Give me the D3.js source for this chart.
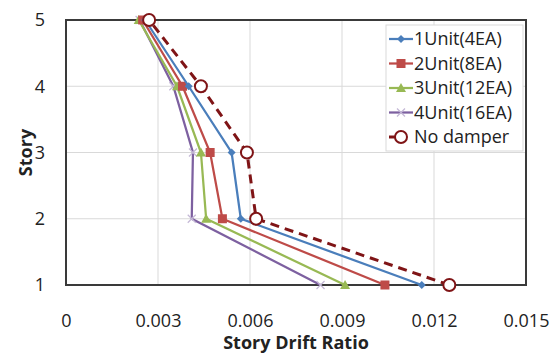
<!DOCTYPE html>
<html>
<head>
<meta charset="utf-8">
<script src="https://cdn.jsdelivr.net/npm/d3@7"></script>
<style>
  body { margin: 0; background: #fff; }
  text { font-family: "Open Sans", "Liberation Sans", sans-serif; fill: #222; }
</style>
</head>
<body>
<div id="drift-chart"></div>
<script>
// story levels and drift ratios
var stories = [1, 2, 3, 4, 5];
var unit1 = [0.0116, 0.0057, 0.0054, 0.0040, 0.00258];
var unit2 = [0.0104, 0.0051, 0.0047, 0.0038, 0.0025];
var unit3 = [0.0091, 0.00457, 0.0044, 0.00362, 0.00237];
var unit4 = [0.0083, 0.0041, 0.00414, 0.0035, 0.0024];
var noDamper = [0.0125, 0.0062, 0.0059, 0.0044, 0.00271];
var xTicks = [0, 0.003, 0.006, 0.009, 0.012, 0.015];
var xTickLabels = ['0', '0.003', '0.006', '0.009', '0.012', '0.015'];
var yTicks = [1, 2, 3, 4, 5];

var series = [
  { name: '1Unit(4EA)', values: unit1, color: '#4a7ebb', marker: 'diamond' },
  { name: '2Unit(8EA)', values: unit2, color: '#be4b48', marker: 'square' },
  { name: '3Unit(12EA)', values: unit3, color: '#98b954', marker: 'triangle' },
  { name: '4Unit(16EA)', values: unit4, color: '#7d60a0', marker: 'cross' },
  { name: 'No damper', values: noDamper, color: '#7f1416', marker: 'circle', dashed: true }
];

var width = 560, height = 356;
var plotLeft = 66, plotRight = 526, plotTop = 20, plotBottom = 285;

var x = d3.scaleLinear().domain([0, 0.015]).range([plotLeft, plotRight]);
var y = d3.scaleLinear().domain([1, 5]).range([plotBottom, plotTop]);

var svg = d3.select('#drift-chart').append('svg')
  .attr('width', width)
  .attr('height', height);

/* gridlines */
svg.append('g').selectAll('line')
  .data(xTicks.slice(1, -1)).enter()
  .append('line')
  .attr('x1', d => x(d)).attr('x2', d => x(d))
  .attr('y1', plotTop).attr('y2', plotBottom)
  .attr('stroke', '#d9d9d9').attr('stroke-width', 1);
svg.append('g').selectAll('line')
  .data(yTicks.slice(1, -1)).enter()
  .append('line')
  .attr('x1', plotLeft).attr('x2', plotRight)
  .attr('y1', d => y(d)).attr('y2', d => y(d))
  .attr('stroke', '#d9d9d9').attr('stroke-width', 1);

/* axes */
var xAxis = d3.axisBottom(x).tickValues(xTicks).tickSize(0).tickPadding(0)
  .tickFormat((d, i) => xTickLabels[i]);
var gx = svg.append('g')
  .attr('transform', `translate(0, ${plotBottom})`)
  .call(xAxis);
gx.select('.domain').remove();
gx.selectAll('text')
  .attr('dy', null).attr('y', 42)
  .style('font-size', '18px').style('font-family', '"Open Sans", sans-serif').attr('fill', '#222');

var yAxis = d3.axisLeft(y).tickValues(yTicks).tickSize(0).tickPadding(21)
  .tickFormat(d3.format('d'));
var gy = svg.append('g')
  .attr('transform', `translate(${plotLeft}, 0)`)
  .call(yAxis);
gy.select('.domain').remove();
gy.selectAll('text')
  .style('font-size', '18px').style('font-family', '"Open Sans", sans-serif').attr('fill', '#222');

/* plot border */
svg.append('rect')
  .attr('x', plotLeft).attr('y', plotTop)
  .attr('width', plotRight - plotLeft).attr('height', plotBottom - plotTop)
  .attr('fill', 'none').attr('stroke', '#3a3a3a').attr('stroke-width', 2);

/* lines */
var line = d3.line()
  .x(d => x(d.v))
  .y(d => y(d.s));

function drawMarker(g, type, color, cx, cy) {
  if (type === 'diamond') {
    g.append('path').attr('d', `M${cx},${cy - 4}L${cx + 4},${cy}L${cx},${cy + 4}L${cx - 4},${cy}Z`)
      .attr('fill', color);
  } else if (type === 'square') {
    g.append('rect').attr('x', cx - 4.5).attr('y', cy - 4.5).attr('width', 9).attr('height', 9)
      .attr('fill', color);
  } else if (type === 'triangle') {
    g.append('path').attr('d', `M${cx},${cy - 5}L${cx + 5},${cy + 4}L${cx - 5},${cy + 4}Z`)
      .attr('fill', color);
  } else if (type === 'cross') {
    g.append('path').attr('d', `M${cx - 4},${cy - 4}L${cx + 4},${cy + 4}M${cx - 4},${cy + 4}L${cx + 4},${cy - 4}`)
      .attr('stroke', '#c4b8d6').attr('stroke-width', 1.2);
  } else if (type === 'circle') {
    g.append('circle').attr('cx', cx).attr('cy', cy).attr('r', 6)
      .attr('fill', '#fff').attr('stroke', color).attr('stroke-width', 2);
  }
}

var order = [3, 2, 1, 0, 4];
order.forEach(function (i) {
  var s = series[i];
  var pts = stories.map((st, j) => ({ s: st, v: s.values[j] }));
  var g = svg.append('g');
  g.append('path')
    .attr('d', line(pts))
    .attr('fill', 'none')
    .attr('stroke', s.color)
    .attr('stroke-width', s.dashed ? 3 : 2.25)
    .attr('stroke-dasharray', s.dashed ? '9,6' : null);
  pts.forEach(function (p) {
    drawMarker(g, s.marker, s.color, x(p.v), y(p.s));
  });
});

/* axis titles */
svg.append('text')
  .attr('x', (plotLeft + plotRight) / 2).attr('y', 349)
  .attr('text-anchor', 'middle')
  .style('font-size', '18px').style('font-weight', 'bold')
  .text('Story Drift Ratio');
svg.append('text')
  .attr('transform', `translate(32, ${(plotTop + plotBottom) / 2}) rotate(-90)`)
  .attr('text-anchor', 'middle')
  .style('font-size', '18px').style('font-weight', 'bold')
  .text('Story');

/* legend */
var legend = svg.append('g').attr('transform', 'translate(386, 25)');
legend.append('rect')
  .attr('width', 137).attr('height', 126)
  .attr('fill', '#fff').attr('stroke', '#d9d9d9').attr('stroke-width', 1);
series.forEach(function (s, i) {
  var ly = 14 + i * 24.5;
  var row = legend.append('g');
  if (s.dashed) {
    row.append('line').attr('x1', 3).attr('x2', 10).attr('y1', ly).attr('y2', ly)
      .attr('stroke', s.color).attr('stroke-width', 3);
  } else {
    row.append('line').attr('x1', 3).attr('x2', 27).attr('y1', ly).attr('y2', ly)
      .attr('stroke', s.color).attr('stroke-width', 2.25);
  }
  drawMarker(row, s.marker, s.color, 15, ly);
  row.append('text')
    .attr('x', 28).attr('y', ly).attr('dy', '0.35em')
    .style('font-size', '18px')
    .text(s.name);
});
</script>
</body>
</html>
